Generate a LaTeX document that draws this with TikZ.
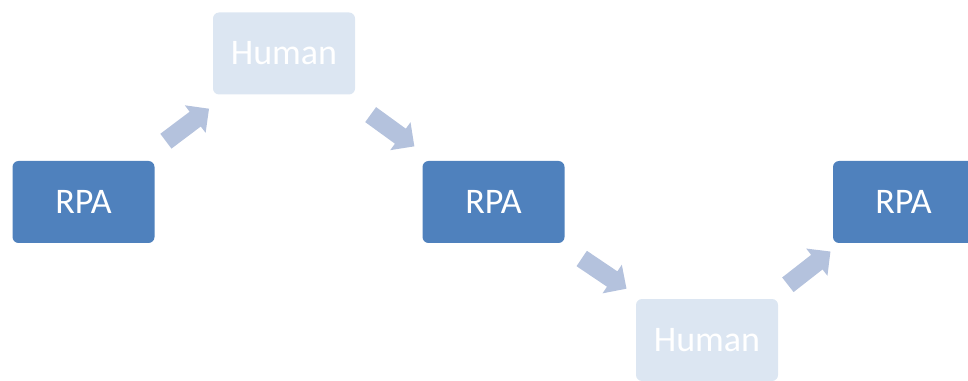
\documentclass[tikz,border=0pt]{standalone}
\usepackage{fontspec}
\setmainfont{Carlito}
\usetikzlibrary{shapes.arrows,calc}
\definecolor{rpablue}{RGB}{79,129,189}
\definecolor{humanblue}{RGB}{220,230,242}
\definecolor{flowblue}{RGB}{180,194,221}
\tikzset{
  rpa/.style={rectangle,rounded corners=4.5pt,fill=rpablue,text=white,
    minimum width=106.5pt,minimum height=61.5pt,font=\fontsize{27}{32}\selectfont},
  human/.style={rpa,fill=humanblue},
  flow/.style={single arrow,fill=flowblue,inner xsep=0pt,inner ysep=6.75pt,
    minimum height=40.5pt,minimum width=25.5pt,single arrow head extend=6pt}
}
\begin{document}
\begin{tikzpicture}[x=.75pt,y=-.75pt]
  \useasboundingbox (0,0) rectangle (968,381);
  \clip (0,0) rectangle (968,381);

  % boxes, up and down
  \node[rpa] (r1) at (83.5,202) {RPA};
  \node[human] (h1) at (284,53.5) {Human};
  \node[rpa] (r2) at (493.5,202) {RPA};
  \node[human] (h2) at (707,340) {Human};
  \node[rpa,minimum width=105.75pt] (r3) at (903.5,202) {RPA};

  % block arrows between corners
\node[flow,rotate=37] (f1) at ($(r1.north east)!.5!(h1.south west)$) {};
\node[flow,rotate=-36] (f2) at ($(h1.south east)!.5!(r2.north west)$) {};
\node[flow,rotate=-34] (f3) at ($(r2.south east)!.5!(h2.north west)$) {};
\node[flow,rotate=38] (f4) at ($(h2.north east)!.5!(r3.south west)$) {};
\end{tikzpicture}
\end{document}
